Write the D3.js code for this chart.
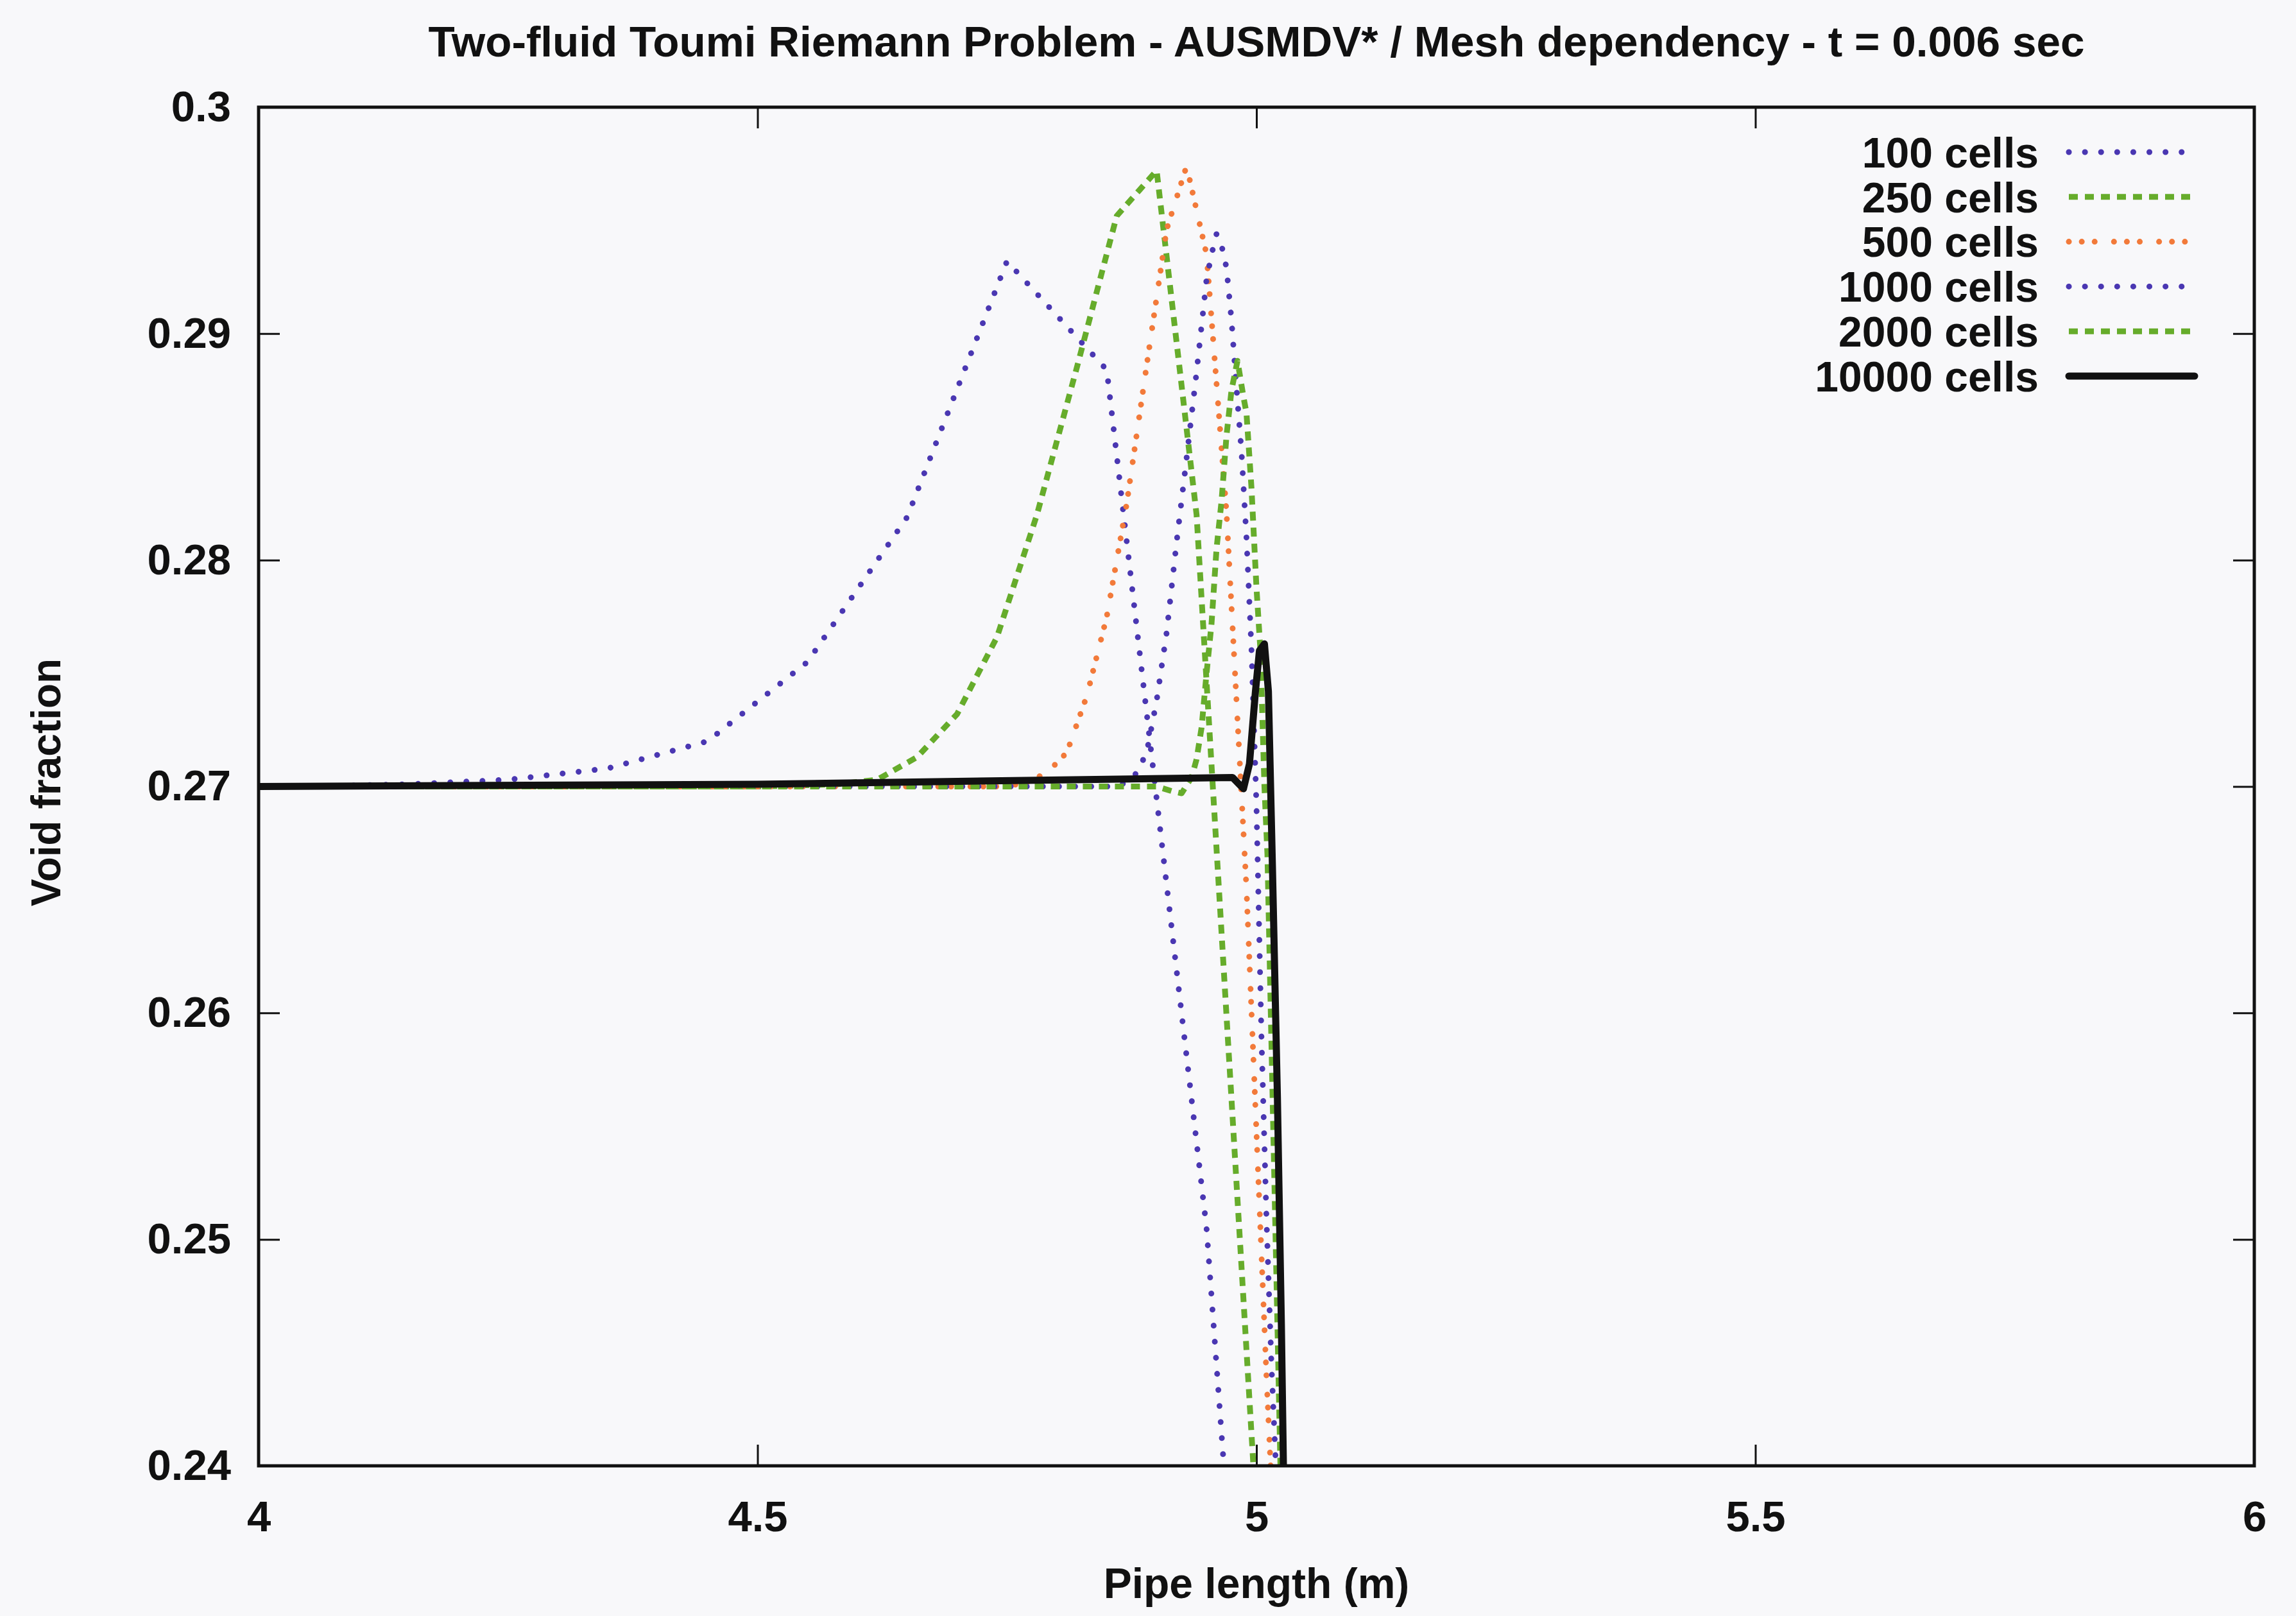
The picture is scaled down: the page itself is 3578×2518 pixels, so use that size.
<!DOCTYPE html>
<html><head><meta charset="utf-8">
<script src="https://cdn.jsdelivr.net/npm/d3@7/dist/d3.min.js"></script>
<style>body{margin:0;background:#f8f8fa;} svg{display:block;}</style>
</head><body>
<script>
// ---------- data ----------
const titleText = "Two-fluid Toumi Riemann Problem - AUSMDV* / Mesh dependency - t = 0.006 sec";
const xLabel = "Pipe length (m)";
const yLabel = "Void fraction";
const xTicks = [4, 4.5, 5, 5.5, 6];
const yTicks = [0.24, 0.25, 0.26, 0.27, 0.28, 0.29, 0.3];
const seriesNames = ["100 cells", "250 cells", "500 cells", "1000 cells", "2000 cells", "10000 cells"];

const cells100 = [[3.95,0.2700],[4.05,0.2700],[4.15,0.2701],[4.25,0.2703],[4.35,0.2708],[4.45,0.2720],
  [4.55,0.2755],[4.65,0.2819],[4.75,0.2932],[4.85,0.2884],[4.95,0.2505],[5.05,0.1900]];
const cells250 = [[3.98,0.2700],[4.50,0.2700],[4.58,0.2701],[4.62,0.2703],[4.66,0.2713],[4.70,0.2732],
  [4.74,0.2766],[4.78,0.2820],[4.82,0.2885],[4.86,0.2952],[4.90,0.2972],[4.94,0.2820],[4.98,0.2525],[5.02,0.2230]];
const cells500 = [[3.99,0.2700],[4.75,0.2700],[4.77,0.2702],[4.79,0.2706],[4.81,0.2715],[4.83,0.2740],
  [4.85,0.2775],[4.87,0.2825],[4.89,0.2886],[4.91,0.2946],[4.93,0.2974],[4.95,0.2935],[4.97,0.2821],
  [4.99,0.2655],[5.01,0.2440],[5.03,0.2250]];
const cells1000 = [[3.995,0.2700],[4.86,0.2700],[4.87,0.2702],[4.88,0.2706],[4.89,0.2715],[4.90,0.2738],
  [4.91,0.2768],[4.92,0.2808],[4.93,0.2845],[4.94,0.2883],[4.95,0.2924],[4.955,0.2935],[4.96,0.2944],
  [4.965,0.2939],[4.970,0.2929],[4.975,0.2906],[4.980,0.2876],[4.985,0.2848],[4.990,0.2810],[4.995,0.2761],
  [5.000,0.2692],[5.005,0.2590],[5.010,0.2510],[5.015,0.2445],[5.020,0.2395],[5.025,0.2330]];
const cells2000 = [[3.99,0.2700],[4.90,0.2700],[4.915,0.2698],[4.925,0.2697],[4.935,0.2704],[4.940,0.2712],
  [4.945,0.2726],[4.950,0.2750],[4.955,0.2772],[4.960,0.2805],[4.965,0.2826],[4.970,0.2855],[4.975,0.2875],
  [4.981,0.2888],[4.987,0.2872],[4.990,0.2865],[4.995,0.2832],[5.000,0.2788],[5.004,0.2760],[5.008,0.2700],
  [5.011,0.2670],[5.024,0.2401],[5.030,0.2280]];
const cells10000 = [[4.00,0.2700],[4.50,0.2701],[4.976,0.2704],[4.987,0.2699],[4.993,0.2710],[4.999,0.2742],
  [5.003,0.2760],[5.008,0.2763],[5.012,0.2742],[5.016,0.2665],[5.021,0.2563],[5.025,0.2462],[5.027,0.2401],[5.029,0.2350]];
const seriesData = [cells100, cells250, cells500, cells1000, cells2000, cells10000];

// ---------- styles ----------
const purple = "#4a37b2", green = "#66ac2b", orange = "#f27a3a";
const styles = [
  {color: purple, width: 9, dash: "0.1,25", cap: "round"},
  {color: green, width: 9, dash: "14,11", cap: "butt"},
  {color: orange, width: 9, dash: "0.1,20,0.1,20,0.1,30", cap: "round"},
  {color: purple, width: 9, dash: "0.1,25", cap: "round"},
  {color: green, width: 9, dash: "14,11", cap: "butt"},
  {color: "#111111", width: 11, dash: null, cap: "round"}
];

const W = 3578, H = 2518;
const L = 403, R = 3513, T = 167, B = 2284;
const FONT = "'Liberation Sans', Arial, Helvetica, sans-serif";

const svg = d3.select("body").append("svg").attr("width", W).attr("height", H)
  .style("font-family", FONT);
svg.append("rect").attr("width", W).attr("height", H).attr("fill", "#f8f8fa");

const x = d3.scaleLinear().domain([4, 6]).range([L, R]);
const y = d3.scaleLinear().domain([0.24, 0.3]).range([B, T]);

svg.append("clipPath").attr("id", "plotclip").append("rect")
  .attr("x", L).attr("y", T).attr("width", R - L).attr("height", B - T);

// axes with inward ticks
const tickLen = 33;
const fmtY = d => String(+d.toFixed(2));
const fmtX = d => String(+d.toFixed(1));

const gL = svg.append("g").attr("transform", `translate(${L},0)`)
  .call(d3.axisLeft(y).tickValues(yTicks).tickFormat(fmtY).tickSizeInner(-tickLen).tickSizeOuter(0).tickPadding(43));
const gB = svg.append("g").attr("transform", `translate(0,${B})`)
  .call(d3.axisBottom(x).tickValues(xTicks).tickFormat(fmtX).tickSizeInner(-tickLen).tickSizeOuter(0).tickPadding(54));
const gR = svg.append("g").attr("transform", `translate(${R},0)`)
  .call(d3.axisRight(y).tickValues(yTicks).tickFormat("").tickSizeInner(-tickLen).tickSizeOuter(0));
const gT = svg.append("g").attr("transform", `translate(0,${T})`)
  .call(d3.axisTop(x).tickValues(xTicks).tickFormat("").tickSizeInner(-tickLen).tickSizeOuter(0));
[gL, gB, gR, gT].forEach(g => {
  g.select(".domain").remove();
  g.selectAll(".tick line").attr("stroke", "#111").attr("stroke-width", 3);
  g.selectAll(".tick text").attr("fill", "#111").style("font-size", "67px")
    .style("font-weight", "bold").style("font-family", FONT);
});

// lines
const line = d3.line().x(d => x(d[0])).y(d => y(d[1]));
const gLines = svg.append("g").attr("clip-path", "url(#plotclip)");
seriesData.forEach((data, i) => {
  const s = styles[i];
  gLines.append("path").datum(data).attr("d", line)
    .attr("fill", "none").attr("stroke", s.color).attr("stroke-width", s.width)
    .attr("stroke-dasharray", s.dash).attr("stroke-linecap", s.cap).attr("stroke-linejoin", "round");
});

// frame
svg.append("rect").attr("x", L).attr("y", T).attr("width", R - L).attr("height", B - T)
  .attr("fill", "none").attr("stroke", "#111").attr("stroke-width", 5);

// legend
const legTextX = 3177, legLineX0 = 3224, legLineX1 = 3420, legY0 = 237, legStep = 69.8;
seriesNames.forEach((name, i) => {
  const cy = legY0 + i * legStep;
  svg.append("text").attr("x", legTextX).attr("y", cy).attr("dy", "0.36em")
    .attr("text-anchor", "end").style("font-size", "66px").style("font-weight", "bold")
    .attr("fill", "#111").text(name);
  const s = styles[i];
  svg.append("line").attr("x1", legLineX0).attr("x2", legLineX1).attr("y1", cy).attr("y2", cy)
    .attr("stroke", s.color).attr("stroke-width", s.width)
    .attr("stroke-dasharray", s.dash).attr("stroke-linecap", s.cap);
});

// title and axis labels
svg.append("text").attr("x", (L + R) / 2).attr("y", 88).attr("text-anchor", "middle")
  .style("font-size", "67.5px").style("font-weight", "bold").attr("fill", "#111").text(titleText);
svg.append("text").attr("x", (L + R) / 2).attr("y", 2490).attr("text-anchor", "middle")
  .style("font-size", "66px").style("font-weight", "bold").attr("fill", "#111").text(xLabel);
svg.append("text").attr("transform", `translate(94,1219) rotate(-90)`).attr("text-anchor", "middle")
  .style("font-size", "64px").style("font-weight", "bold").attr("fill", "#111").text(yLabel);
</script>
</body></html>
